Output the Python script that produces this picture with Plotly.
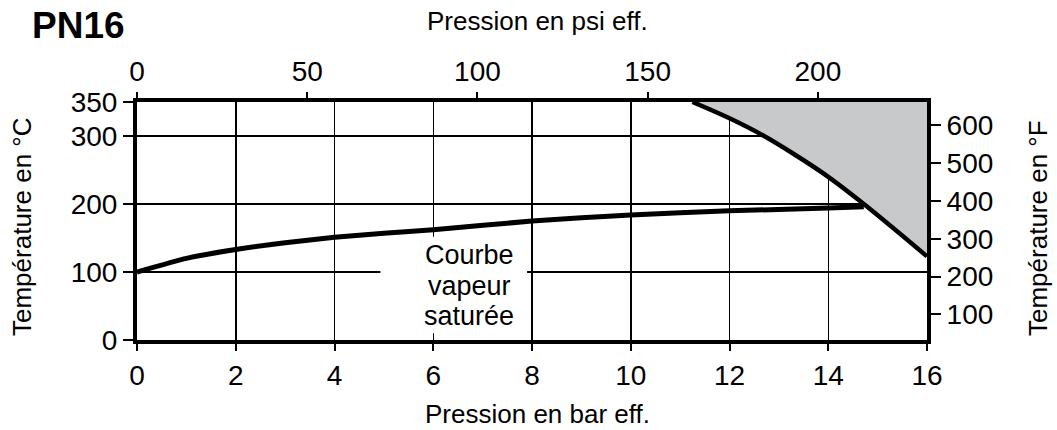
import plotly.graph_objects as go

# --- data ---
sat_bar = [0, 1, 2, 3, 4, 5, 6, 8, 10, 12, 14, 14.72]
sat_temp_c = [100, 120, 133, 143, 151, 157, 162, 175, 184, 190, 194, 196]

limit_bar = [11.25, 12, 12.7, 13.27, 14, 14.72, 16]
limit_temp_c = [350, 326, 300, 275, 240, 200, 123]

bar_ticks = [0, 2, 4, 6, 8, 10, 12, 14, 16]
psi_ticks = [0, 50, 100, 150, 200]
degc_ticks = [0, 100, 200, 300, 350]
degf_ticks = [100, 200, 300, 400, 500, 600]

label_lines = ["Courbe", "vapeur", "saturée"]
label_y_c = [125, 80, 35]
label_x_bar = 6.73

BAR_MAX = 16
C_MAX = 350
PSI_PER_BAR = 14.5038

FONT = "Liberation Sans, Arial, sans-serif"
W, H = 1057, 430
ML, MT = 137, 102
MR = W - 927
MB = H - 340
PW, PH = W - ML - MR, H - MT - MB


def wx(p):
    """window pixel x -> paper fraction"""
    return (p - ML) / PW


def wy(p):
    """window pixel y -> paper fraction"""
    return 1 - (p - MT) / PH


fig = go.Figure()

# top edge of the shaded region (invisible)
fig.add_trace(go.Scatter(
    x=[limit_bar[0], BAR_MAX], y=[C_MAX, C_MAX], mode="lines",
    line=dict(width=0, color="rgba(0,0,0,0)"), hoverinfo="skip", showlegend=False,
))
# limit curve, shaded up to the top edge
fig.add_trace(go.Scatter(
    x=limit_bar, y=limit_temp_c, mode="lines",
    fill="tonexty", fillcolor="#c8c9cb",
    line=dict(color="black", width=4.5, shape="spline", smoothing=1.0),
    hoverinfo="skip", showlegend=False,
))
# saturated steam curve
fig.add_trace(go.Scatter(
    x=sat_bar, y=sat_temp_c, mode="lines",
    line=dict(color="black", width=5, shape="spline", smoothing=0.5),
    hoverinfo="skip", showlegend=False,
))
# invisible trace binding secondary axes
fig.add_trace(go.Scatter(x=[0], y=[32], xaxis="x2", yaxis="y2", mode="markers",
                         marker=dict(opacity=0), showlegend=False, hoverinfo="skip"))

axis_common = dict(
    showline=True, linecolor="black", linewidth=4,
    ticks="outside", tickwidth=2, tickcolor="black",
    tickfont=dict(family=FONT, size=28, color="black"),
    zeroline=False,
)

fig.update_layout(
    width=W, height=H,
    margin=dict(l=ML, r=MR, t=MT, b=MB),
    paper_bgcolor="white", plot_bgcolor="white",
    showlegend=False,
    xaxis=dict(range=[0, BAR_MAX], tickvals=bar_ticks, ticktext=[str(v) for v in bar_ticks],
               ticklen=7, showgrid=True, gridcolor="black", gridwidth=1.5, **axis_common),
    xaxis2=dict(range=[0, BAR_MAX * PSI_PER_BAR], tickvals=psi_ticks,
                ticktext=[str(v) for v in psi_ticks], overlaying="x", side="top",
                ticklen=6, showgrid=False, **axis_common),
    yaxis=dict(range=[0, C_MAX], tickvals=degc_ticks, ticktext=[str(v) for v in degc_ticks],
               ticklen=10, showgrid=True, gridcolor="black", gridwidth=1.5, **axis_common),
    yaxis2=dict(range=[32, C_MAX * 9 / 5 + 32], tickvals=degf_ticks,
                ticktext=[str(v) for v in degf_ticks], overlaying="y", side="right",
                ticklen=10, showgrid=False, **axis_common),
)

# white gap behind the curve label
fig.add_shape(type="rect", xref="x", yref="y", x0=4.93, x1=7.9, y0=10, y1=152,
              fillcolor="white", line=dict(width=0), layer="above")

ann = []
ann.append(dict(text="<b>PN16</b>", xref="paper", yref="paper", x=wx(30), y=wy(25),
                xanchor="left", yanchor="middle", showarrow=False,
                font=dict(family=FONT, size=37, color="black")))
ann.append(dict(text="Pression en psi eff.", xref="paper", yref="paper", x=wx(537), y=wy(21),
                xanchor="center", yanchor="middle", showarrow=False,
                font=dict(family=FONT, size=26, color="black")))
ann.append(dict(text="Pression en bar eff.", xref="paper", yref="paper", x=wx(537), y=wy(414),
                xanchor="center", yanchor="middle", showarrow=False,
                font=dict(family=FONT, size=26, color="black")))
ann.append(dict(text="Température en °C", xref="paper", yref="paper", x=wx(22), y=wy(227),
                xanchor="center", yanchor="middle", textangle=-90, showarrow=False,
                font=dict(family=FONT, size=26, color="black")))
ann.append(dict(text="Température en °F", xref="paper", yref="paper", x=wx(1038), y=wy(228),
                xanchor="center", yanchor="middle", textangle=-90, showarrow=False,
                font=dict(family=FONT, size=26, color="black")))
for txt, yc in zip(label_lines, label_y_c):
    ann.append(dict(text=txt, xref="x", yref="y", x=label_x_bar, y=yc,
                    xanchor="center", yanchor="middle", showarrow=False,
                    font=dict(family=FONT, size=27, color="black")))
fig.update_layout(annotations=ann, hovermode=False)

fig.write_html(
    "out.html",
    config={"displayModeBar": False, "staticPlot": True},
    post_script="document.body.style.margin='0';document.body.style.overflow='hidden';",
)
